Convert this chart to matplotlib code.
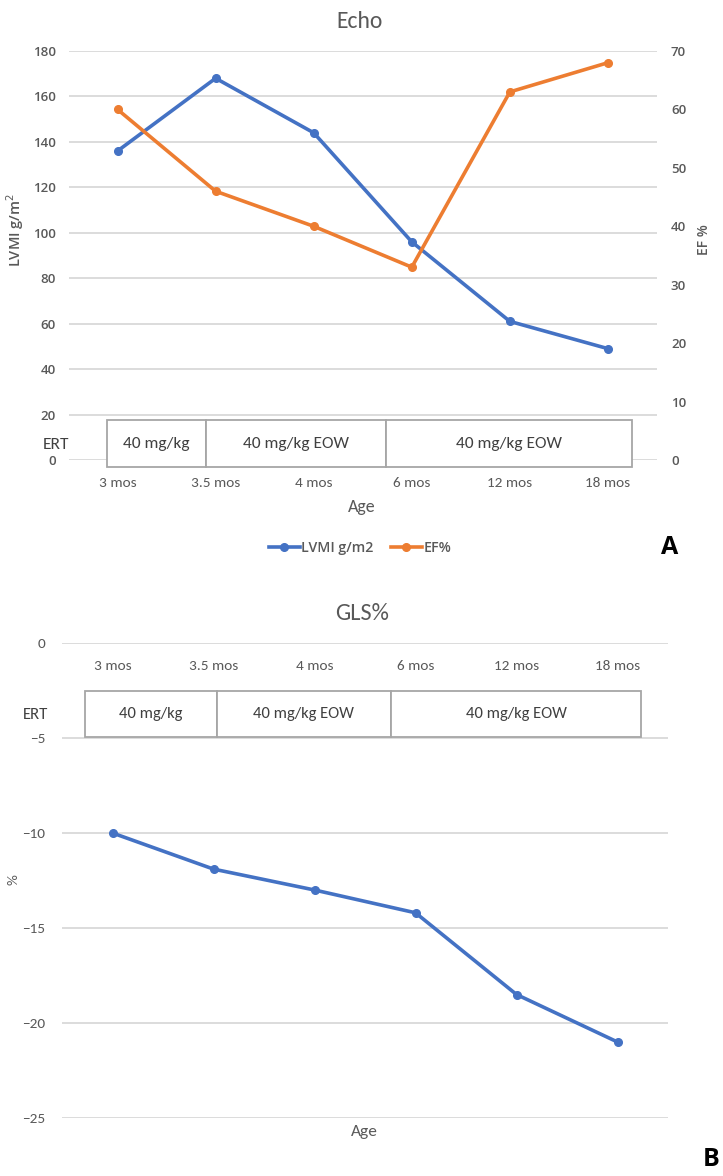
import matplotlib
matplotlib.use("Agg")
import matplotlib.pyplot as plt
from matplotlib import font_manager
from matplotlib.patches import Rectangle
from matplotlib.lines import Line2D

# Pick fonts that are actually installed
installed = {f.name for f in font_manager.fontManager.ttflist}
def pick(*names):
    for n in names:
        if n in installed:
            return n
    return "DejaVu Sans"

narrow = pick("Carlito", "Liberation Sans Narrow", "Open Sans")
semi = pick("Open Sans", "Noto Sans", "DejaVu Sans")
plt.rcParams["font.family"] = [narrow, "DejaVu Sans"]

#
# DATA
#
ages = ["3 mos", "3.5 mos", "4 mos", "6 mos", "12 mos", "18 mos"]
lvmi = [136, 168, 144, 96, 61, 49]      # g/m2
ef = [60, 46, 40, 33, 63, 68]           # %
gls = [-10, -11.9, -13, -14.2, -18.5, -21]  # %

ert_labels = ["40 mg/kg", "40 mg/kg EOW", "40 mg/kg EOW"]

blue = "#4472C4"
orange = "#ED7D31"
grid_c = "#D9D9D9"
text_c = "#595959"
box_c = "#A6A6A6"

W, H = 723, 1176
fig = plt.figure(figsize=(W / 100, H / 100), dpi=100)

def fx(x):
    return x / W

def fy(y):
    return 1 - y / H

def style(ax):
    for s in ax.spines.values():
        s.set_visible(False)
    ax.tick_params(length=0)
    ax.grid(axis="y", color=grid_c, linewidth=1.3)
    ax.set_axisbelow(True)

def ert_box(ax, edges, ytop, ybot, size):
    for i, lab in enumerate(ert_labels):
        x0, x1 = edges[i], edges[i + 1]
        ax.add_patch(Rectangle((x0, ybot), x1 - x0, ytop - ybot,
                               facecolor="white", edgecolor=box_c,
                               linewidth=1.3, clip_on=False, zorder=3))
        ax.text((x0 + x1) / 2, (ytop + ybot) / 2, lab, ha="center",
                va="center", fontsize=size, color="#404040", zorder=4,
                clip_on=False)

x = list(range(len(ages)))
lw, ms = 2.6, 5.5

#
# PANEL A: ECHO
#
ax1 = fig.add_axes([fx(68.5), fy(460), fx(588.5), 409 / H])
style(ax1)
ax1.set_xlim(-0.5, 5.5)
ax1.set_ylim(0, 180)
ax1.set_yticks(range(0, 181, 20))
ax1.set_xticks(x)
ax1.set_xticklabels(ages, fontsize=11, color=text_c)
ax1.tick_params(axis="x", pad=12)
ax1.tick_params(axis="y", pad=9)
for t in ax1.get_yticklabels():
    t.set_fontfamily([semi, "DejaVu Sans"])
    t.set_fontweight("semibold")
    t.set_fontsize(9.5)
    t.set_color(text_c)
ax1.plot(x, lvmi, color=blue, lw=lw, marker="o", ms=ms, zorder=5,
         clip_on=False)

ax2 = ax1.twinx()
for s in ax2.spines.values():
    s.set_visible(False)
ax2.tick_params(length=0, pad=10)
ax2.set_ylim(0, 70)
ax2.set_yticks(range(0, 71, 10))
for t in ax2.get_yticklabels():
    t.set_fontfamily([semi, "DejaVu Sans"])
    t.set_fontweight("semibold")
    t.set_fontsize(9.5)
    t.set_color(text_c)
ax2.plot(x, ef, color=orange, lw=lw, marker="o", ms=ms, zorder=5,
         clip_on=False)

ert_box(ax1, [-0.107, 0.90, 2.74, 5.25], 17.6, -3.1, 12.5)

fig.text(fx(360), fy(22), "Echo", ha="center", va="center", fontsize=17,
         color=text_c)
fig.text(fx(56), fy(445), "ERT", ha="center", va="center", fontsize=12.5,
         color="#404040")
fig.text(fx(362), fy(507), "Age", ha="center", va="center", fontsize=13,
         color=text_c)
fig.text(fx(15), fy(230), "LVMI g/m$^2$", rotation=90, ha="center",
         va="center", fontsize=10.5, color=text_c,
         family=[semi, "DejaVu Sans"], weight="semibold")
fig.text(fx(704), fy(240), "EF %", rotation=90, ha="center", va="center",
         fontsize=10, color=text_c, family=[semi, "DejaVu Sans"],
         weight="semibold")

handles = [Line2D([], [], color=blue, lw=lw, marker="o", ms=ms),
           Line2D([], [], color=orange, lw=lw, marker="o", ms=ms)]
fig.legend(handles, ["LVMI g/m2", "EF%"], loc="center",
           bbox_to_anchor=(fx(360), fy(548)), ncol=2, frameon=False,
           handlelength=2.2, handletextpad=0.1, columnspacing=1.2,
           prop={"family": [semi, "DejaVu Sans"], "size": 10.2,
                 "weight": "semibold"},
           labelcolor=text_c)
fig.text(fx(670), fy(548), "A", ha="center", va="center", fontsize=18,
         weight="bold", color="black", family=[semi, "DejaVu Sans"])

#
# PANEL B: GLS
#
ax3 = fig.add_axes([fx(62), fy(1118), fx(606), 475 / H])
style(ax3)
ax3.set_xlim(-0.5, 5.5)
ax3.set_ylim(-25, 0)
ax3.set_yticks(range(-25, 1, 5))
ax3.set_yticklabels([str(v).replace("-", "\u2212") for v in range(-25, 1, 5)],
                    fontsize=11, color=text_c)
ax3.spines["bottom"].set_position(("data", 0))
ax3.set_xticks(x)
ax3.set_xticklabels(ages, fontsize=11, color=text_c)
ax3.tick_params(axis="x", pad=12)
ax3.tick_params(axis="y", pad=12)
ax3.plot(x, gls, color=blue, lw=lw, marker="o", ms=ms, zorder=5)

ert_box(ax3, [-0.275, 1.03, 2.76, 5.23], -2.53, -4.95, 12)

fig.text(fx(362), fy(613), "GLS%", ha="center", va="center", fontsize=17.5,
         color=text_c)
fig.text(fx(36), fy(715), "ERT", ha="center", va="center", fontsize=12,
         color="#404040")
fig.text(fx(364), fy(1132), "Age", ha="center", va="center", fontsize=12.5,
         color=text_c)
fig.text(fx(14), fy(880), "%", rotation=90, ha="center", va="center",
         fontsize=11, color=text_c)
fig.text(fx(711), fy(1160), "B", ha="center", va="center", fontsize=18,
         weight="bold", color="black", family=[semi, "DejaVu Sans"])

fig.savefig("out.png", dpi=100)
